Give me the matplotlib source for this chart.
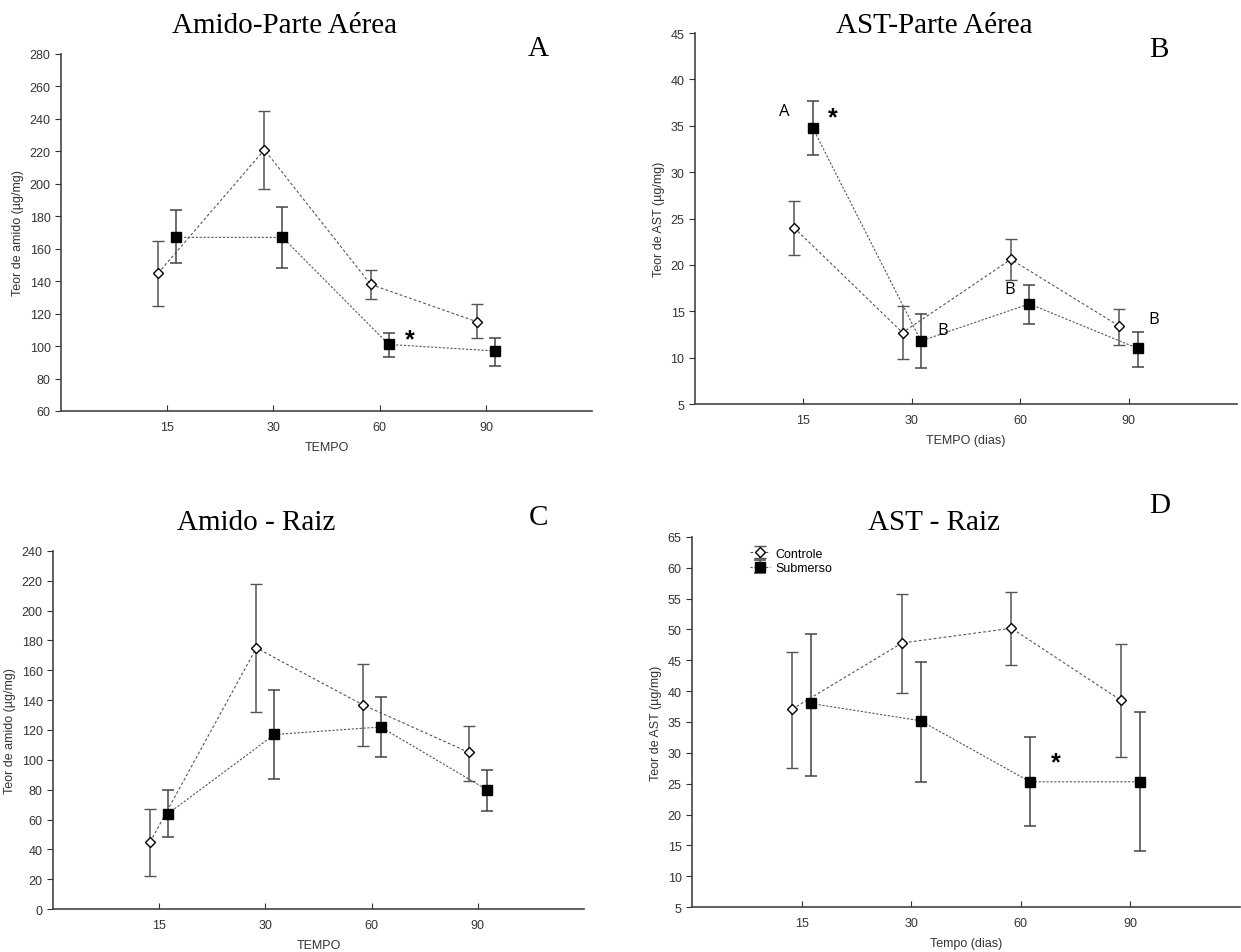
import matplotlib.pyplot as plt
import numpy as np

tempos = ['15', '30', '60', '90']

# A - Amido parte aerea
a_ctrl = [145, 221, 138, 115]
a_ctrl_lo = [125, 197, 129, 105]
a_ctrl_hi = [165, 245, 147, 126]
a_sub = [167, 167, 101, 97]
a_sub_lo = [151, 148, 93, 88]
a_sub_hi = [184, 186, 108, 105]

# B - AST parte aerea
b_ctrl = [24.0, 12.7, 20.6, 13.4]
b_ctrl_lo = [21.1, 9.9, 18.4, 11.4]
b_ctrl_hi = [26.9, 15.6, 22.8, 15.2]
b_sub = [34.8, 11.8, 15.8, 11.0]
b_sub_lo = [31.9, 8.9, 13.6, 9.0]
b_sub_hi = [37.7, 14.7, 17.8, 12.8]

# C - Amido raiz
c_ctrl = [45, 175, 137, 105]
c_ctrl_lo = [22, 132, 109, 86]
c_ctrl_hi = [67, 218, 164, 123]
c_sub = [64, 117, 122, 80]
c_sub_lo = [48, 87, 102, 66]
c_sub_hi = [80, 147, 142, 93]

# D - AST raiz
d_ctrl = [37.1, 47.8, 50.2, 38.5]
d_ctrl_lo = [27.6, 39.7, 44.2, 29.3]
d_ctrl_hi = [46.3, 55.8, 56.1, 47.6]
d_sub = [38.0, 35.2, 25.3, 25.3]
d_sub_lo = [26.3, 25.3, 18.1, 14.1]
d_sub_hi = [49.2, 44.8, 32.6, 36.7]

plt.rcParams['font.family'] = ['Liberation Sans', 'DejaVu Sans']

fig = plt.figure(figsize=(12.41, 9.53), dpi=100)

x = np.arange(1, 5)
off = 0.085
txt_col = '#333333'


def painel(rect, ctrl, clo, chi, sub, slo, shi, ylim, yticks, xlabel, ylabel):
    ax = fig.add_axes(rect)
    ctrl = np.array(ctrl); sub = np.array(sub)
    e1 = ax.errorbar(x - off, ctrl, yerr=[ctrl - np.array(clo), np.array(chi) - ctrl],
                     fmt='D', ms=5, mfc='white', mec='black', mew=1,
                     ecolor='#555555', elinewidth=1.1, capsize=4, capthick=1.1,
                     ls=(0, (2.5, 2)), lw=0.8, color='#555555', label='Controle')
    e2 = ax.errorbar(x + off, sub, yerr=[sub - np.array(slo), np.array(shi) - sub],
                     fmt='s', ms=7, mfc='black', mec='black',
                     ecolor='#444444', elinewidth=1.1, capsize=4, capthick=1.1,
                     ls=(0, (2, 1.5)), lw=0.8, color='#555555', label='Submerso')
    ax.set_xlim(0, 5)
    ax.set_ylim(*ylim)
    ax.set_yticks(yticks)
    ax.set_xticks(x)
    ax.set_xticklabels(tempos)
    ax.spines['top'].set_visible(False)
    ax.spines['right'].set_visible(False)
    for s in ['left', 'bottom']:
        ax.spines[s].set_color('#444444')
        ax.spines[s].set_linewidth(1.2)
    ax.tick_params(axis='x', direction='in', length=4, labelsize=9, colors=txt_col, pad=7)
    ax.tick_params(axis='y', direction='out', length=4, labelsize=9, colors=txt_col)
    ax.set_xlabel(xlabel, fontsize=9, color=txt_col, labelpad=6)
    ax.set_ylabel(ylabel, fontsize=9, color=txt_col)
    return ax, e1, e2


axA, _, _ = painel([0.0492, 0.5677, 0.4279, 0.3746], a_ctrl, a_ctrl_lo, a_ctrl_hi,
                   a_sub, a_sub_lo, a_sub_hi, (60, 280), range(60, 281, 20),
                   'TEMPO', 'Teor de amido (µg/mg)')
axA.text(3.28, 104, '*', fontsize=18, fontweight='bold', ha='center', va='center')

axB, _, _ = painel([0.560, 0.575, 0.4367, 0.3893], b_ctrl, b_ctrl_lo, b_ctrl_hi,
                   b_sub, b_sub_lo, b_sub_hi, (5, 45), range(5, 46, 5),
                   'TEMPO (dias)', 'Teor de AST (µg/mg)')
for px, py, t in [(0.82, 36.6, 'A'), (2.29, 13.0, 'B'), (2.9, 17.4, 'B'), (4.23, 14.2, 'B')]:
    axB.text(px, py, t, fontsize=12, family='Open Sans', ha='center', va='center')
axB.text(1.27, 35.9, '*', fontsize=18, fontweight='bold', ha='center', va='center')

axC, _, _ = painel([0.0427, 0.0451, 0.4279, 0.3757], c_ctrl, c_ctrl_lo, c_ctrl_hi,
                   c_sub, c_sub_lo, c_sub_hi, (0, 240), range(0, 241, 20),
                   'TEMPO', 'Teor de amido (µg/mg)')

axD, e1, e2 = painel([0.5576, 0.0472, 0.4416, 0.3883], d_ctrl, d_ctrl_lo, d_ctrl_hi,
                     d_sub, d_sub_lo, d_sub_hi, (5, 65), range(5, 66, 5),
                     'Tempo (dias)', 'Teor de AST (µg/mg)')
axD.text(3.32, 28.5, '*', fontsize=18, fontweight='bold', ha='center', va='center')
axD.legend(handles=[e1, e2], loc='upper left', bbox_to_anchor=(0.09, 0.995),
           frameon=False, fontsize=9, handlelength=1.6, handletextpad=0.4,
           labelspacing=0.2, borderpad=0.2)

# titulos
tit = dict(family='Liberation Serif', fontsize=21, ha='center', va='center')
fig.text(285 / 1241, 1 - 26 / 953, 'Amido-Parte Aérea', **tit)
fig.text(934 / 1241, 1 - 26 / 953, 'AST-Parte Aérea', **tit)
fig.text(256 / 1241, 1 - 523 / 953, 'Amido - Raiz', **tit)
fig.text(934 / 1241, 1 - 523 / 953, 'AST - Raiz', **tit)
fig.text(538 / 1241, 1 - 49 / 953, 'A', **tit)
fig.text(1159 / 1241, 1 - 50 / 953, 'B', **tit)
fig.text(538 / 1241, 1 - 518 / 953, 'C', **tit)
fig.text(1160 / 1241, 1 - 506 / 953, 'D', **tit)

fig.savefig('out.png', dpi=100)
